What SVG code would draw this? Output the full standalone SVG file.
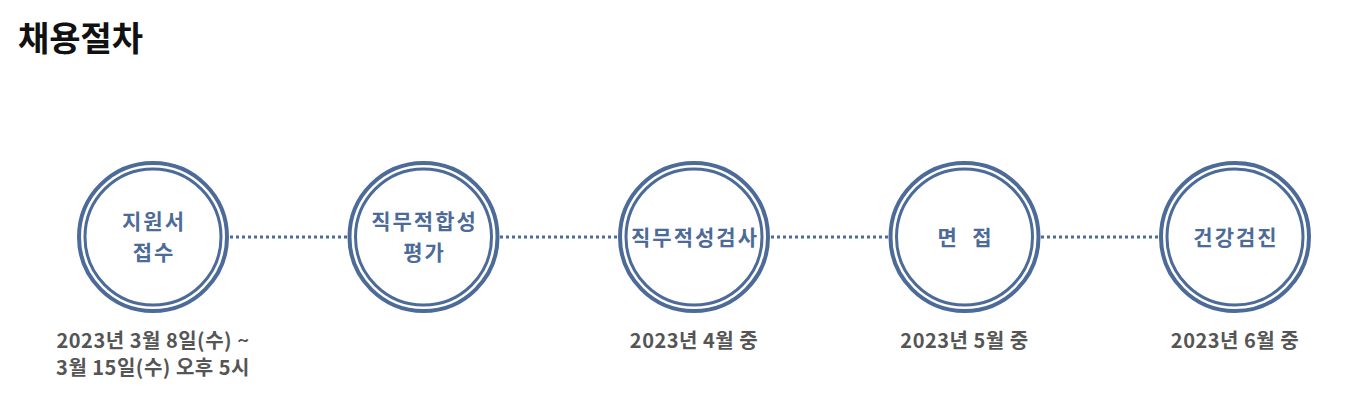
<svg xmlns="http://www.w3.org/2000/svg" width="1364" height="416" viewBox="0 0 1364 416">
<style>
.outer{fill:none;stroke:#4d6b98;stroke-width:4}
.inner{fill:none;stroke:#4d6b98;stroke-width:3}
.lbl{font-family:"Noto Sans CJK KR","Noto Sans",sans-serif;font-weight:bold;font-size:21px;letter-spacing:2px;fill:#4d6b98;text-anchor:middle}
.date{font-family:"Noto Sans CJK KR","Noto Sans",sans-serif;font-weight:bold;font-size:20px;letter-spacing:0.5px;fill:#555;text-anchor:middle}
.con{stroke:#4d6b98;stroke-width:3;stroke-dasharray:3 3;fill:none}
</style>
<rect width="1364" height="416" fill="#fff"/>
<text x="18" y="51" font-family="'Noto Sans CJK KR','Noto Sans',sans-serif" font-weight="bold" font-size="34" fill="#111">채용절차</text>
<g id="connectors">
<line class="con" x1="230" y1="237" x2="347" y2="237"/>
<line class="con" x1="500" y1="237" x2="617" y2="237"/>
<line class="con" x1="771" y1="237" x2="888" y2="237"/>
<line class="con" x1="1041" y1="237" x2="1158" y2="237"/>
</g>
<g id="n1">
<circle class="outer" cx="153" cy="237" r="74"/><circle class="inner" cx="153" cy="237" r="68"/>
<text class="lbl" x="154" y="229">지원서</text><text class="lbl" x="154" y="260">접수</text>
<text class="date" x="153" y="348">2023년 3월 8일(수) ~</text><text class="date" x="153" y="375">3월 15일(수) 오후 5시</text>
</g>
<g id="n2">
<circle class="outer" cx="423.5" cy="237" r="74"/><circle class="inner" cx="423.5" cy="237" r="68"/>
<text class="lbl" x="424.5" y="229">직무적합성</text><text class="lbl" x="424.5" y="260">평가</text>
</g>
<g id="n3">
<circle class="outer" cx="694" cy="237" r="74"/><circle class="inner" cx="694" cy="237" r="68"/>
<text class="lbl" x="695" y="245">직무적성검사</text>
<text class="date" x="694" y="348">2023년 4월 중</text>
</g>
<g id="n4">
<circle class="outer" cx="964.5" cy="237" r="74"/><circle class="inner" cx="964.5" cy="237" r="68"/>
<text class="lbl" x="965.5" y="245" xml:space="preserve">면  접</text>
<text class="date" x="964.5" y="348">2023년 5월 중</text>
</g>
<g id="n5">
<circle class="outer" cx="1235" cy="237" r="74"/><circle class="inner" cx="1235" cy="237" r="68"/>
<text class="lbl" x="1236" y="245">건강검진</text>
<text class="date" x="1235" y="348">2023년 6월 중</text>
</g>
</svg>
